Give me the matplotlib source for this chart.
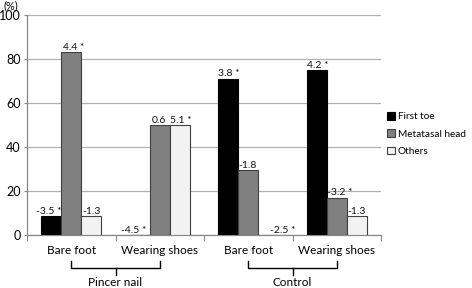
import matplotlib
matplotlib.use("Agg")
import matplotlib.pyplot as plt
import numpy as np
from matplotlib.patches import Patch

plt.rcParams['font.family'] = ['Lato', 'DejaVu Sans']

categories = ["Bare foot", "Wearing shoes", "Bare foot", "Wearing shoes"]
groups = ["Pincer nail", "Control"]
series = ["First toe", "Metatasal head", "Others"]
first_toe = [8.5, 0, 71, 75]
metatarsal = [83, 50, 29.5, 17]
others = [8.5, 50, 0, 8.5]
labels_first = ["-3.5 *", "-4.5 *", "3.8 *", "4.2 *"]
labels_meta = ["4.4 *", "0.6", "-1.8", "-3.2 *"]
labels_others = ["-1.3", "5.1 *", "-2.5 *", "-1.3"]
yticks = [0, 20, 40, 60, 80, 100]

fig = plt.figure(figsize=(4.72, 2.88), dpi=100)
ax = fig.add_axes([27/472, 1-235/288, (381-27)/472, 220/288])

x = np.arange(len(categories))
w = 0.226
colors = ["#000000", "#808080", "#f2f2f2"]
edges = ["#000000", "#404040", "#404040"]
vals = [first_toe, metatarsal, others]
labs = [labels_first, labels_meta, labels_others]
# label x-offsets (points) relative to bar left edge
offsets = [[-4, -6, 0, 0], [1, 1.5, 0, 0], [0.5, 0.5, 8.5, 0.5]]

for i in range(3):
    pos = x + (i - 1) * w
    ax.bar(pos, vals[i], width=w, color=colors[i], edgecolor=edges[i],
           linewidth=0.8, zorder=3)
    for j in range(len(categories)):
        t = labs[i][j]
        if not t:
            continue
        ax.annotate(t, (pos[j] - w/2, vals[i][j]), xytext=(offsets[i][j], 0.3),
                    textcoords="offset points", ha="left", va="bottom",
                    fontsize=7.5, color="#111111", zorder=4)

ax.set_xlim(-0.5, 3.5)
ax.set_ylim(0, 100)
ax.set_yticks(yticks)
ax.tick_params(axis='y', labelsize=9, length=2.5, color="#888888", pad=2)
ax.yaxis.grid(True, color="#b0b0b0", linewidth=0.9, zorder=0)
ax.set_axisbelow(True)
ax.set_xticks([-0.5, 0.5, 1.5, 2.5, 3.5])
ax.set_xticklabels([])
ax.tick_params(axis='x', length=4, color="#888888", direction='out')
for s in ["top", "right"]:
    ax.spines[s].set_visible(False)
for s in ["left", "bottom"]:
    ax.spines[s].set_color("#888888")
    ax.spines[s].set_linewidth(0.9)

for j, c in enumerate(categories):
    ax.text(x[j], -7, c, ha="center", va="center", fontsize=8.5,
            transform=ax.transData, clip_on=False)

# group brackets
trans = ax.get_xaxis_transform()
for g, name in enumerate(groups):
    x0, x1 = x[2*g], x[2*g+1]
    yb_top, yb_bot, yb_tick = -0.116, -0.150, -0.180
    ax.plot([x0, x0, x1, x1], [yb_top, yb_bot, yb_bot, yb_top], color="black",
            lw=1.0, transform=trans, clip_on=False)
    xm = (x0 + x1) / 2
    ax.plot([xm, xm], [yb_bot, yb_tick], color="black", lw=1.0,
            transform=trans, clip_on=False)
    ax.text(xm, -0.218, name, ha="center", va="center", fontsize=8.5,
            transform=trans, clip_on=False)

fig.text(3/472, 1-6/288, "(%)", fontsize=7.8, va="center", ha="left")

handles = [Patch(facecolor=colors[i], edgecolor=edges[i], linewidth=0.8, label=series[i])
           for i in range(3)]
fig.legend(handles=handles, loc="upper left", bbox_to_anchor=(387/472, 1-112/288),
           frameon=False, fontsize=7.2, handlelength=0.8, handleheight=0.8,
           handletextpad=0.3, labelspacing=0.8, borderaxespad=0, borderpad=0)

fig.savefig("out.png", dpi=100)
